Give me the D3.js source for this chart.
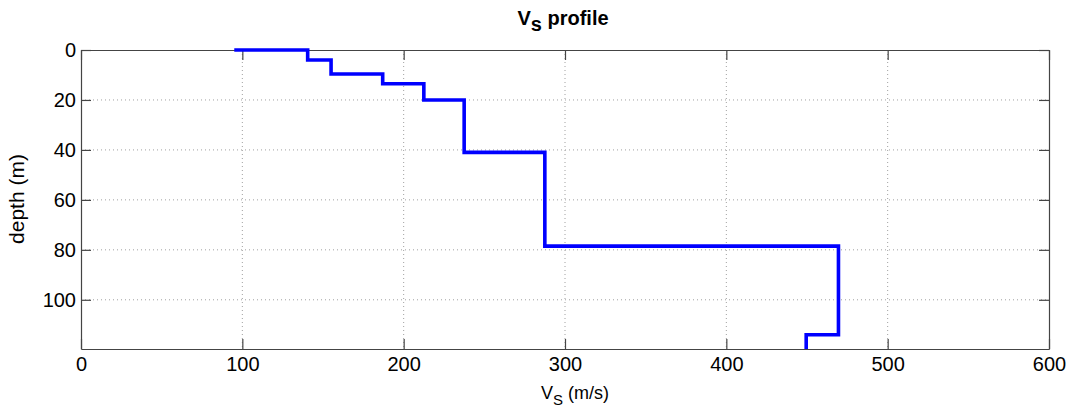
<html>
<head>
<style>
  body { margin: 0; background: #fff; }
  text { font-family: "Liberation Sans", Arial, sans-serif; }
</style>
</head>
<body>
<svg id="mainSvg" width="1075" height="416"></svg>
<script src="https://d3js.org/d3.v7.min.js"></script>
<script>
// layer data: top depth of each layer and its shear wave velocity
const layerTop = [0, 4, 9.6, 13.5, 20, 41, 78.5, 114]
const layerVs = [140.5, 155, 187, 212.5, 237.5, 287.5, 469.5, 449.5]
const startVs = 95
const maxDepth = 119.7
const xTicks = [0, 100, 200, 300, 400, 500, 600]
const yTicks = [0, 20, 40, 60, 80, 100]

const svg = d3.select('#mainSvg')
const margin = { top: 50, right: 26, bottom: 67, left: 81 }
const innerWidth = svg.attr('width') - margin.left - margin.right
const innerHeight = svg.attr('height') - margin.top - margin.bottom

const g = svg.append('g').attr('transform', `translate(${margin.left}, ${margin.top})`)

const xScale = d3.scaleLinear().domain([0, 600]).range([0, innerWidth])
const yScale = d3.scaleLinear().domain([0, maxDepth]).range([0, innerHeight])

// grid
g.selectAll('.vgrid').data(xTicks.slice(1, -1)).join('line')
    .attr('x1', d => xScale(d)).attr('x2', d => xScale(d))
    .attr('y1', 0).attr('y2', innerHeight)
    .attr('stroke', '#a0a0a0').attr('stroke-dasharray', '1,3')
g.selectAll('.hgrid').data(yTicks.slice(1)).join('line')
    .attr('x1', 0).attr('x2', innerWidth)
    .attr('y1', d => yScale(d)).attr('y2', d => yScale(d))
    .attr('stroke', '#a0a0a0').attr('stroke-dasharray', '1,3')

// axes, ticks pointing inward on all four sides
const tickLen = 10
g.append('g').attr('transform', `translate(0, ${innerHeight})`)
    .call(d3.axisBottom(xScale).tickValues(xTicks).tickSizeInner(-tickLen).tickSizeOuter(0).tickPadding(8))
g.append('g')
    .call(d3.axisTop(xScale).tickValues(xTicks).tickSizeInner(-tickLen).tickSizeOuter(0).tickFormat(''))
g.append('g')
    .call(d3.axisLeft(yScale).tickValues(yTicks).tickSizeInner(-tickLen).tickSizeOuter(0).tickPadding(5))
g.append('g').attr('transform', `translate(${innerWidth}, 0)`)
    .call(d3.axisRight(yScale).tickValues(yTicks).tickSizeInner(-tickLen).tickSizeOuter(0).tickFormat(''))

g.selectAll('.domain').attr('stroke', '#444').attr('stroke-width', 1.2)
g.selectAll('.tick line').attr('stroke', '#444').attr('stroke-width', 1.2)
g.selectAll('.tick text').attr('font-size', 20).attr('fill', '#000')
    .attr('font-family', '"Liberation Sans", Arial, sans-serif')

// step profile
const pts = [[startVs, 0]]
layerVs.forEach((v, i) => {
    pts.push([v, layerTop[i]])
    const bottom = i + 1 < layerTop.length ? layerTop[i + 1] : maxDepth
    pts.push([v, bottom])
})
g.append('path').datum(pts)
    .attr('fill', 'none').attr('stroke', '#0000ff').attr('stroke-width', 3.6)
    .attr('d', d3.line().x(d => xScale(d[0])).y(d => yScale(d[1])))

// title
const title = svg.append('text').attr('x', 563).attr('y', 25).attr('text-anchor', 'middle')
    .attr('font-size', 20).attr('font-weight', 'bold')
title.append('tspan').text('V')
title.append('tspan').text('s').attr('dy', 6)
title.append('tspan').text(' profile').attr('dy', -6)

// x label
const xl = svg.append('text').attr('x', 575).attr('y', 399)
    .attr('text-anchor', 'middle').attr('font-size', 18)
xl.append('tspan').text('V')
xl.append('tspan').text('S').attr('dy', 6).attr('font-size', 15)
xl.append('tspan').text(' (m/s)').attr('dy', -6)

// y label
svg.append('text').attr('transform', `translate(24, ${margin.top + 149}) rotate(-90)`)
    .attr('text-anchor', 'middle').attr('font-size', 21).text('depth (m)')
</script>
</body>
</html>
